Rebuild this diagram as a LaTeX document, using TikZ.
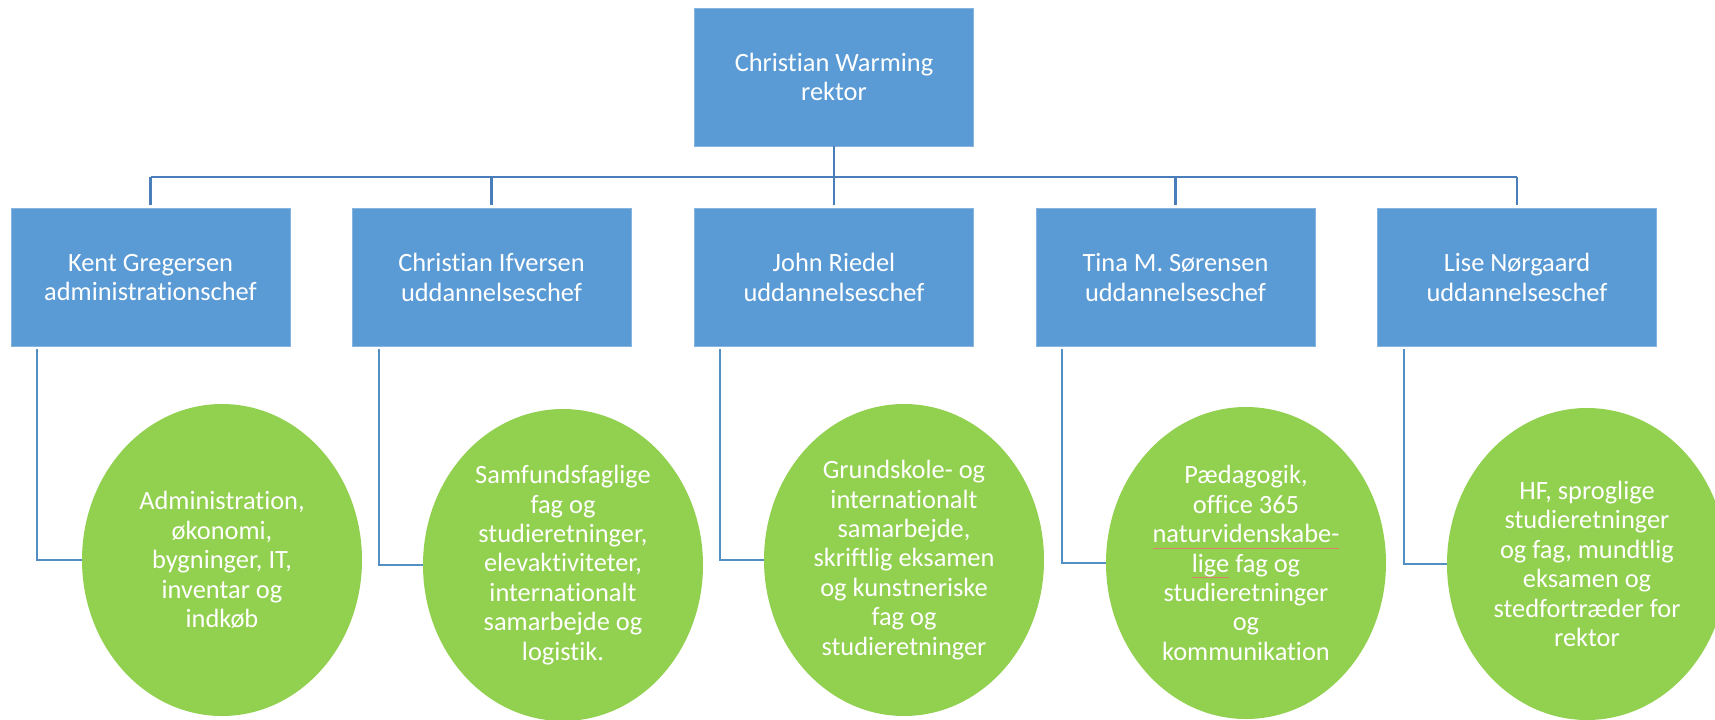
\documentclass[tikz,border=0pt]{standalone}
\usepackage{fontspec}
\setmainfont[Ligatures=NoCommon]{Carlito}
\usetikzlibrary{shapes.geometric,calc}
\definecolor{boxblue}{HTML}{5B9BD5}
\definecolor{linkblue}{HTML}{4A7EBB}
\definecolor{ovalgreen}{HTML}{92D050}
\definecolor{spellred}{HTML}{D9826A}
\newsavebox\ulbox
\newcommand\spellul[1]{\sbox\ulbox{#1}\rlap{\textcolor{spellred}{\rule[-0.45ex]{\wd\ulbox}{0.3pt}}}\usebox\ulbox}
\begin{document}
\begin{tikzpicture}[x=0.5pt,y=-0.5pt,
  txt/.style={text=white, align=center, font=\fontsize{13.2}{14.7}\selectfont},
  box/.style={rectangle, fill=boxblue, draw=boxblue!75!white, line width=0.4pt,
    minimum width=139.5pt, minimum height=69pt, inner sep=0pt, txt},
  oval/.style={ellipse, fill=ovalgreen, minimum width=140pt, minimum height=156pt, inner sep=0pt},
  bus/.style={draw=linkblue, line width=1.3pt},
  elbow/.style={draw=boxblue!92!black, line width=1pt}]
\useasboundingbox (0,0) rectangle (1715,719);
\clip (0,0) rectangle (1715,719);

% boxes
\node[box] (rektor) at (834,77) {Christian Warming\\rektor};
\node[box] (kent)   at (150.5,277.5) {Kent Gregersen\\administrationschef};
\node[box] (ifv)    at (491.5,277.5) {Christian Ifversen\\uddannelseschef};
\node[box] (riedel) at (834,277.5)   {John Riedel\\uddannelseschef};
\node[box] (tina)   at (1175.5,277.5){Tina M. Sørensen\\uddannelseschef};
\node[box] (lise)   at (1517,277.5)  {Lise Nørgaard\\uddannelseschef};

% tree connectors
\coordinate (bus) at (834,177);
\draw[bus] (rektor.south) -- (bus);
\draw[bus] (kent.north |- bus) -- (lise.north |- bus);
\foreach \n in {kent,ifv,riedel,tina,lise}
  \draw[bus, shorten <=1.5pt] (\n.north) -- (\n.north |- bus);

% ovals
\node[oval] (e1) at (222,560)  {};
\node[oval] (e2) at (563,565)  {};
\node[oval] (e3) at (904,560)  {};
\node[oval] (e4) at (1246,563) {};
\node[oval] (e5) at (1587,564) {};

\node[txt] (t1) at (e1.center) {Administration,\\økonomi,\\bygninger, IT,\\inventar og\\indkøb};
\node[txt] (t2) at (e2.center) {Samfundsfaglige\\fag og\\studieretninger,\\elevaktiviteter,\\internationalt\\samarbejde og\\logistik.};
\node[txt] (t3) at (e3.center) {Grundskole- og\\internationalt\\samarbejde,\\skriftlig eksamen\\og kunstneriske\\fag og\\studieretninger};
\node[txt] (t4) at (e4.center) {Pædagogik,\\office 365\\\spellul{naturvidenskabe-}\\\spellul{lige} fag og\\studieretninger\\og\\kommunikation};
\node[txt] (t5) at (e5.center) {HF, sproglige\\studieretninger\\og fag, mundtlig\\eksamen og\\stedfortræder for\\rektor};

% elbow connectors
\draw[elbow] ($(kent.south west)+(26,2)$)   |- (e1.west);
\draw[elbow] ($(ifv.south west)+(27,2)$)    |- (e2.west);
\draw[elbow] ($(riedel.south west)+(26,2)$) |- (e3.west);
\draw[elbow] ($(tina.south west)+(26,2)$)   |- (e4.west);
\draw[elbow] ($(lise.south west)+(27,2)$)   |- (e5.west);
\end{tikzpicture}
\end{document}
